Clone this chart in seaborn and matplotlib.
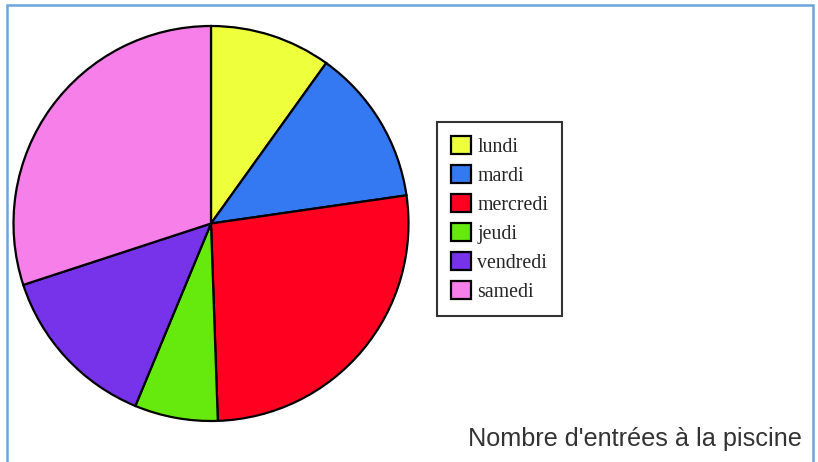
import matplotlib
matplotlib.use("Agg")
import matplotlib.pyplot as plt
from matplotlib.patches import Rectangle, Patch
import seaborn as sns

# number of entries per day
days = ["lundi", "mardi", "mercredi", "jeudi", "vendredi", "samedi"]
entries = [99, 128, 267, 68, 137, 300]
colors = ["#EEFF3C", "#3479F2", "#FF0020", "#66EA0E", "#7733EA", "#F77FEA"]
title = "Nombre d'entrées à la piscine"

sns.set_theme(style="white")

W, H = 818, 462
fig = plt.figure(figsize=(W / 100, H / 100), dpi=100)
fig.patch.set_facecolor("white")

# pie centre / radius in pixels
cx, cy, r = 211, 223.5, 197.5
ax = fig.add_axes([(cx - r) / W, (H - cy - r) / H, 2 * r / W, 2 * r / H])
ax.pie(entries, colors=colors, startangle=90, counterclock=False, radius=1,
       wedgeprops=dict(edgecolor="black", linewidth=1.6))
ax.set_xlim(-1, 1)
ax.set_ylim(-1, 1)
ax.set_aspect("equal")
ax.axis("off")

handles = [Patch(facecolor=c, edgecolor="black", linewidth=1.6) for c in colors]
leg = fig.legend(handles, days, loc="upper left",
                 bbox_to_anchor=(437 / W, 1 - 122 / H),
                 prop=dict(family="Liberation Serif", size=14.3),
                 frameon=True, fancybox=False, edgecolor="black",
                 handlelength=1.0, handleheight=1.0, handletextpad=0.3,
                 labelspacing=0.42, borderpad=0.72, borderaxespad=0)
leg.get_frame().set_linewidth(1.5)

fig.text(802 / W, 1 - 446 / H, title, ha="right", va="baseline",
         family="Liberation Sans", fontsize=18.2, color="#333333")

# light blue frame around the figure
fig.patches.append(Rectangle((7 / W, -0.05), 806 / W, 1.05 - 5 / H,
                             transform=fig.transFigure, fill=False,
                             edgecolor="#6AA6E0", linewidth=1.8))

fig.savefig("out.png", dpi=100)
